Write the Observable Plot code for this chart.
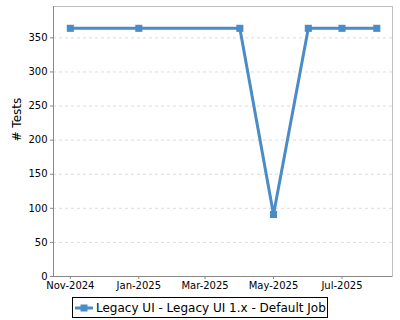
<!DOCTYPE html>
<html>
<head>
<meta charset="utf-8">
<script src="https://cdn.jsdelivr.net/npm/d3@7"></script>
<script src="https://cdn.jsdelivr.net/npm/@observablehq/plot@0.6"></script>
<style>
  body { margin: 0; background: #fff; font-family: "DejaVu Sans", sans-serif; }
  #chart { width: 400px; height: 320px; position: relative; }
  .legend { position: absolute; left: 72px; top: 297px; width: 256px; height: 21px; box-sizing: border-box;
    border: 1px solid #000; display: flex; align-items: center; font-size: 12px; color: #000; white-space: nowrap; }
  .legend svg { margin: 0 3px 0 2px; }
</style>
</head>
<body>
<div id="chart"></div>
<script>
const dates = ["2024-11-01", "2025-01-01", "2025-04-01", "2025-05-01", "2025-06-01", "2025-07-01", "2025-08-01"];
const tests = [364, 364, 364, 91, 364, 364, 364];
const seriesName = "Legacy UI - Legacy UI 1.x - Default Job";
const yLabel = "# Tests";
const yTicks = [0, 50, 100, 150, 200, 250, 300, 350];
const xTicks = ["2024-11-01", "2025-01-01", "2025-03-01", "2025-05-01", "2025-07-01"];
const xDomain = ["2024-10-17", "2025-08-15"];
const yDomain = [0, 396];

const color = "#4a8cc7";
const toDate = d => new Date(d + "T00:00:00Z");
const data = dates.map((d, i) => ({date: toDate(d), value: tests[i]}));
const fmt = d3.utcFormat("%b-%Y");

const chart = Plot.plot({
  width: 400,
  height: 294,
  marginLeft: 53,
  marginRight: 8,
  marginTop: 6,
  marginBottom: 18,
  style: {fontFamily: "DejaVu Sans, sans-serif", fontSize: "10px", color: "#000", background: "#fff"},
  x: {type: "utc", domain: xDomain.map(toDate)},
  y: {domain: yDomain},
  marks: [
    Plot.gridY(yTicks, {stroke: "#dcdcdc", strokeOpacity: 1, strokeDasharray: "3,3"}),
    Plot.frame({stroke: "#c0c0c0"}),
    Plot.ruleY([0], {stroke: "#888"}),
    Plot.ruleX([toDate(xDomain[0])], {stroke: "#888"}),
    Plot.axisX(xTicks.map(toDate), {tickSize: 3, tickPadding: 2, tickFormat: fmt, stroke: "#888", label: null}),
    Plot.axisY(yTicks, {tickSize: 3, tickPadding: 3, stroke: "#888", label: null}),
    Plot.text([yLabel], {frameAnchor: "left", rotate: -90, dx: -36, fontSize: 12, fill: "#000"}),
    Plot.line(data, {x: "date", y: "value", stroke: color, strokeWidth: 3, strokeLinejoin: "miter"}),
    Plot.dot(data, {x: "date", y: "value", symbol: "square", r: 4, fill: color, stroke: "none"})
  ]
});
const root = document.getElementById("chart");
root.appendChild(chart);

const legend = document.createElement("div");
legend.className = "legend";
legend.innerHTML = `<svg width="18" height="8"><line x1="0" y1="4" x2="18" y2="4" stroke="${color}" stroke-width="3"/><rect x="5.5" y="0.5" width="7" height="7" fill="${color}"/></svg><span></span>`;
legend.querySelector("span").textContent = seriesName;
root.appendChild(legend);
</script>
</body>
</html>
